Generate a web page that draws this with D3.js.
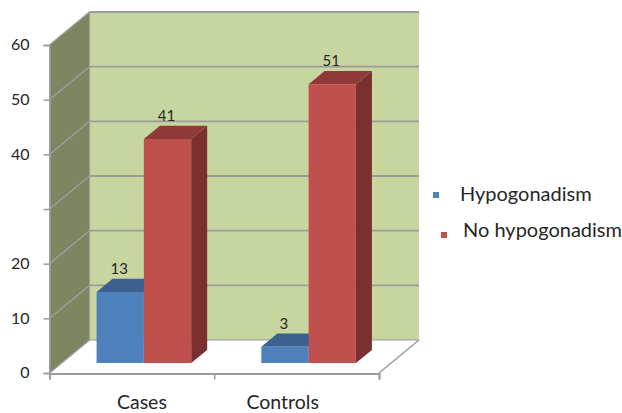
<!DOCTYPE html>
<html>
<head>
<meta charset="utf-8">
<script src="https://cdn.jsdelivr.net/npm/d3@7/dist/d3.min.js"></script>
<style>
  html, body { margin: 0; padding: 0; background: #fff; }
  svg { display: block; }
  text { font-family: Lato, "Open Sans", sans-serif; fill: #262626; }
</style>
</head>
<body>
<svg id="chart" width="622" height="413"></svg>
<script>
// Chart data
const categories = ["Cases", "Controls"];
const seriesNames = ["Hypogonadism", "No hypogonadism"];
const hypogonadism = [13, 3];
const noHypogonadism = [41, 51];
const tickValues = [0, 10, 20, 30, 40, 50, 60];
const tickLabels = ["0", "10", "20", "", "40", "50", "60"];

const svg = d3.select("#chart");

// Front plane of the 3-D box
const x = d3.scaleBand().domain(categories).range([49.5, 379]);
const y = d3.scaleLinear().domain([0, 60]).range([373, 45]);
const series = d3.scaleBand().domain(seriesNames).range([0, 94.6]);

// Oblique projection: depth 0 is the front plane, depth 1 the back wall
const depthX = 40, depthY = -33;
const project = (px, value, depth) => [px + depth * depthX, y(value) + depth * depthY];
const poly = pts => "M" + pts.map(p => p.join(",")).join("L") + "Z";

const gridColor = "#9b9b9b";
const [xMin, xMax] = x.range();
const [yMin, yMax] = y.domain();

// Floor
svg.append("path")
  .attr("d", poly([project(xMin, 0, 0), project(xMin, 0, 1), project(xMax, 0, 1), project(xMax, 0, 0)]))
  .attr("fill", "#fff");

// Side wall
svg.append("path")
  .attr("d", poly([project(xMin, yMin, 0), project(xMin, yMin, 1), project(xMin, yMax, 1), project(xMin, yMax, 0)]))
  .attr("fill", "#7c8660");

// Back wall
svg.append("path")
  .attr("d", poly([project(xMin, yMin, 1), project(xMax, yMin, 1), project(xMax, yMax, 1), project(xMin, yMax, 1)]))
  .attr("fill", "#c6d69e");

// Gridlines across the side wall and back wall
const grid = svg.append("g").attr("fill", "none").attr("stroke", gridColor);
tickValues.forEach(v => {
  grid.append("path")
    .attr("d", d3.line()([project(xMin, v, 0), project(xMin, v, 1)]))
    .attr("stroke-width", 1.5);
  grid.append("path")
    .attr("d", d3.line()([project(xMin, v, 1), project(xMax, v, 1)]))
    .attr("stroke-width", v === 0 ? 1 : 1.8);
});
grid.append("path")
  .attr("d", d3.line()([project(xMin, yMin, 1), project(xMin, yMax, 1)]))
  .attr("stroke-width", 1.2);
grid.append("path")
  .attr("d", d3.line()([project(xMax, 0, 0), project(xMax, 0, 1)]))
  .attr("stroke-width", 1.5);

// Bars sit between 30% and 70% of the box depth
const barFront = 0.3, barBack = 0.7;
const barStyles = [
  { front: "#4f81bd", top: "#3c6190", side: "#365a85" },
  { front: "#c0504d", top: "#8f3a38", side: "#7a302e" }
];

function drawBar(cat, name, value, style) {
  const g = svg.append("g");
  const x0 = x(cat) + x.bandwidth() / 2 - series.range()[1] / 2 + series(name);
  const x1 = x0 + series.bandwidth();
  g.append("path")
    .attr("d", poly([project(x1, 0, barFront), project(x1, 0, barBack), project(x1, value, barBack), project(x1, value, barFront)]))
    .attr("fill", style.side);
  g.append("path")
    .attr("d", poly([project(x0, value, barFront), project(x0, value, barBack), project(x1, value, barBack), project(x1, value, barFront)]))
    .attr("fill", style.top);
  g.append("path")
    .attr("d", poly([project(x0, 0, barFront), project(x1, 0, barFront), project(x1, value, barFront), project(x0, value, barFront)]))
    .attr("fill", style.front);
  const [lx, ly] = project((x0 + x1) / 2, value, barFront);
  return { x: lx, y: ly - 18, value };
}

const valueLabels = [];
categories.forEach((cat, i) => {
  valueLabels.push(drawBar(cat, seriesNames[0], hypogonadism[i], barStyles[0]));
  valueLabels.push(drawBar(cat, seriesNames[1], noHypogonadism[i], barStyles[1]));
});

svg.append("g").selectAll("text").data(valueLabels).join("text")
  .attr("x", d => d.x - 1)
  .attr("y", d => d.y)
  .attr("text-anchor", "middle")
  .attr("font-size", 15)
  .text(d => d.value);

// Value axis
const yAxis = svg.append("g")
  .attr("transform", `translate(${xMin},0)`)
  .call(d3.axisLeft(y)
    .tickValues(tickValues)
    .tickFormat((d, i) => tickLabels[i])
    .tickSize(6)
    .tickPadding(14));
yAxis.attr("font-family", null).attr("font-size", null);
yAxis.select(".domain").attr("stroke", gridColor).attr("stroke-width", 1.5);
yAxis.selectAll(".tick line").attr("stroke", gridColor).attr("stroke-width", 1.5);
yAxis.selectAll(".tick text").attr("font-size", 16).attr("fill", "#262626").attr("dy", "0.3em");

// Category axis: ticks on the band edges, labels placed separately below
const xAxisY = y(0) + 0.5;
const xAxis = svg.append("g")
  .attr("transform", `translate(0,${xAxisY})`)
  .call(d3.axisBottom(d3.scaleLinear().domain([xMin, xMax]).range([xMin, xMax]))
    .tickValues([xMin, x(categories[1]), xMax])
    .tickFormat("")
    .tickSize(6));
xAxis.select(".domain").attr("stroke", gridColor).attr("stroke-width", 2);
xAxis.selectAll(".tick line").attr("stroke", gridColor).attr("stroke-width", 1.5);

const categoryOffsets = [10, -14];
svg.append("g").selectAll("text").data(categories).join("text")
  .attr("x", (d, i) => x(d) + x.bandwidth() / 2 + categoryOffsets[i])
  .attr("y", 409)
  .attr("text-anchor", "middle")
  .attr("font-size", 19.5)
  .text(d => d);

// Legend
const legendItems = [
  { name: seriesNames[0], color: barStyles[0].front, sx: 433, sy: 192, tx: 460, ty: 201 },
  { name: seriesNames[1], color: barStyles[1].front, sx: 441, sy: 232, tx: 463, ty: 237 }
];
const legend = svg.append("g");
legend.selectAll("rect").data(legendItems).join("rect")
  .attr("x", d => d.sx).attr("y", d => d.sy)
  .attr("width", 6).attr("height", 6)
  .attr("fill", d => d.color);
legend.selectAll("text").data(legendItems).join("text")
  .attr("x", d => d.tx).attr("y", d => d.ty)
  .attr("font-size", 20)
  .text(d => d.name);
</script>
</body>
</html>
